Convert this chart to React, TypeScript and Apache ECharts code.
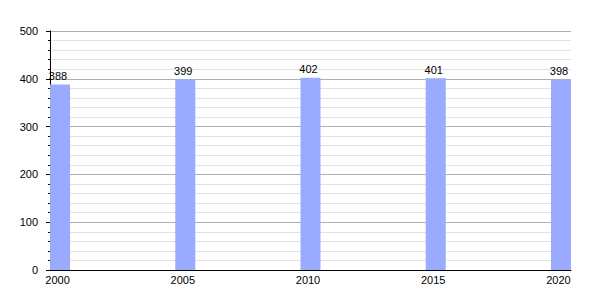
import React, { useEffect, useRef } from "react";
import * as echarts from "echarts";

const years = [2000, 2005, 2010, 2015, 2020];
const values = [388, 399, 402, 401, 398];
const yTicks = [0, 100, 200, 300, 400, 500];

export default function App() {
  const ref = useRef<HTMLDivElement>(null);
  useEffect(() => {
    if (!ref.current) return;
    const chart = echarts.init(ref.current, null, { renderer: "svg" });
    const font = "Liberation Sans, Arial, sans-serif";
    chart.setOption({
      animation: false,
      backgroundColor: "#ffffff",
      grid: { left: 50, right: 29, top: 31, bottom: 30, containLabel: false },
      xAxis: {
        type: "value",
        min: years[0] - 0.4,
        max: years[years.length - 1] + 0.4,
        axisLine: { show: true, lineStyle: { color: "#000", width: 1 } },
        axisTick: { show: false },
        splitLine: { show: false },
        axisLabel: {
          customValues: years,
          formatter: (v: number) => String(Math.round(v)),
          fontSize: 11,
          fontFamily: font,
          color: "#000",
          margin: 4,
          padding: [0, 5, 0, 0],
        },
      },
      yAxis: {
        type: "value",
        min: yTicks[0],
        max: yTicks[yTicks.length - 1],
        interval: 100,
        axisLine: { show: true, lineStyle: { color: "#000", width: 1 } },
        axisTick: { show: true, length: 4, lineStyle: { color: "#000" } },
        minorTick: { show: true, splitNumber: 5, length: 2, lineStyle: { color: "#000" } },
        splitLine: { show: true, lineStyle: { color: "#b0b0b0", width: 1 } },
        minorSplitLine: { show: true, lineStyle: { color: "#e2e2e2", width: 1 } },
        axisLabel: { fontSize: 11, fontFamily: font, color: "#000", margin: 12 },
      },
      series: [
        {
          type: "bar",
          data: years.map((y, i) => [y, values[i]]),
          barWidth: 20,
          itemStyle: { color: "#99aaff" },
          label: {
            show: true,
            position: "top",
            distance: 3,
            offset: [-2, 0],
            fontSize: 11,
            fontFamily: font,
            color: "#000",
            formatter: (p: any) => String(p.value[1]),
          },
        },
      ],
    });
    return () => chart.dispose();
  }, []);
  return (
    <div
      ref={ref}
      style={{ position: "fixed", left: 0, top: 0, width: 600, height: 300 }}
    />
  );
}
